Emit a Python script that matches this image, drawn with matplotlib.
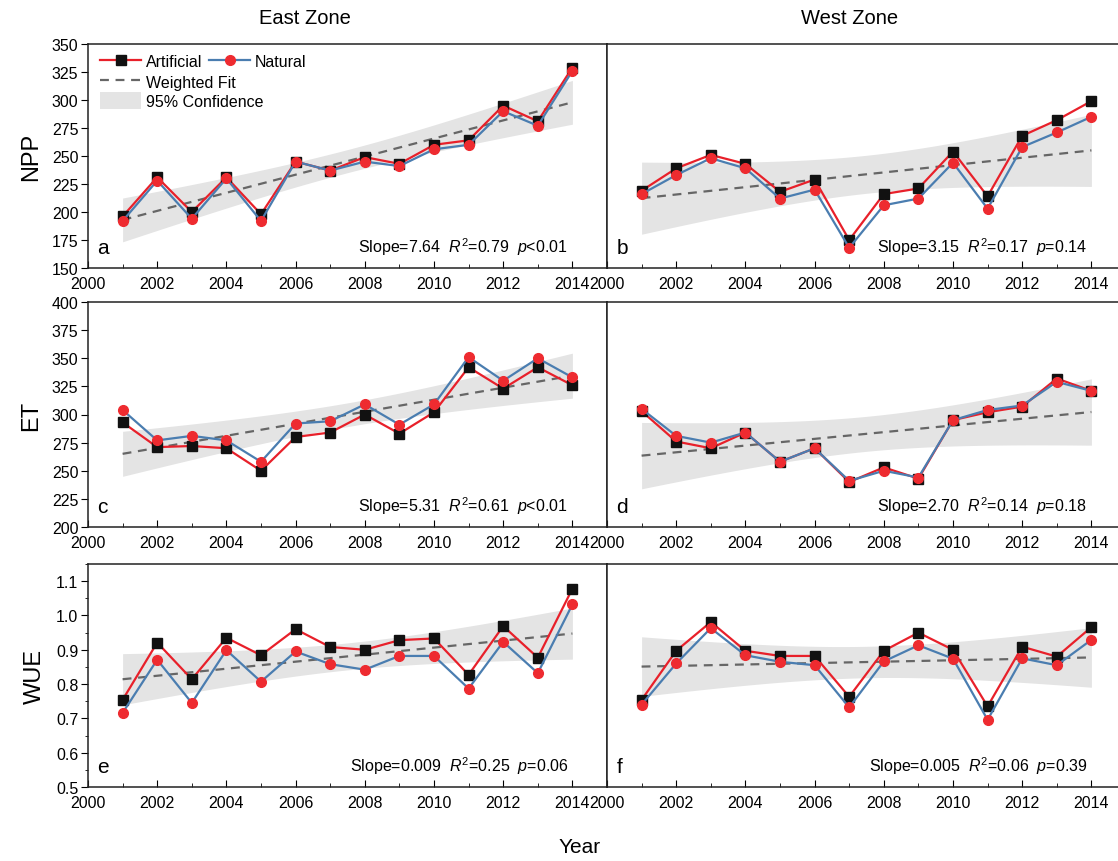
import matplotlib
matplotlib.use('Agg')
import matplotlib.pyplot as plt
from matplotlib.patches import Patch
from matplotlib.ticker import MultipleLocator
import numpy as np

plt.rcParams['font.family'] = ['Liberation Sans', 'DejaVu Sans']
plt.rcParams['mathtext.fontset'] = 'custom'
plt.rcParams['mathtext.rm'] = 'Liberation Sans'
plt.rcParams['mathtext.it'] = 'Liberation Sans:italic'

years = np.arange(2001, 2015)

# NPP
npp_east_art = [196, 231, 200, 231, 198, 245, 237, 249, 243, 260, 264, 295, 281, 329]
npp_east_nat = [192, 228, 194, 230, 192, 245, 237, 245, 241, 256, 260, 290, 277, 326]
npp_west_art = [219, 239, 251, 243, 218, 229, 175, 216, 221, 254, 214, 268, 282, 299]
npp_west_nat = [216, 233, 248, 239, 212, 220, 168, 206, 212, 244, 203, 258, 271, 285]

# ET
et_east_art = [293, 271, 272, 270, 250, 280, 284, 300, 283, 302, 342, 323, 342, 326]
et_east_nat = [304, 277, 281, 277, 258, 292, 294, 309, 291, 309, 351, 330, 350, 333]
et_west_art = [303, 276, 270, 284, 258, 270, 240, 253, 243, 295, 302, 307, 332, 321]
et_west_nat = [305, 281, 275, 284, 258, 270, 241, 250, 244, 295, 304, 308, 329, 321]

# WUE
wue_east_art = [0.754, 0.921, 0.814, 0.935, 0.884, 0.960, 0.908, 0.900, 0.928, 0.933, 0.827, 0.969, 0.877, 1.078]
wue_east_nat = [0.716, 0.871, 0.745, 0.899, 0.807, 0.895, 0.858, 0.842, 0.882, 0.882, 0.787, 0.923, 0.832, 1.032]
wue_west_art = [0.754, 0.897, 0.981, 0.897, 0.882, 0.882, 0.763, 0.897, 0.950, 0.900, 0.735, 0.909, 0.880, 0.966]
wue_west_nat = [0.740, 0.860, 0.963, 0.884, 0.865, 0.855, 0.732, 0.866, 0.913, 0.874, 0.696, 0.875, 0.855, 0.929]

stats = ['Slope=7.64  $R^2$=0.79  $p$<0.01', 'Slope=3.15  $R^2$=0.17  $p$=0.14',
         'Slope=5.31  $R^2$=0.61  $p$<0.01', 'Slope=2.70  $R^2$=0.14  $p$=0.18',
         'Slope=0.009  $R^2$=0.25  $p$=0.06', 'Slope=0.005  $R^2$=0.06  $p$=0.39']
letters = ['a', 'b', 'c', 'd', 'e', 'f']
row_labels = ['NPP', 'ET', 'WUE']
ylims = [(150, 350), (200, 400), (0.5, 1.15)]
yticks = [np.arange(150, 351, 25), np.arange(200, 401, 25), np.arange(0.5, 1.11, 0.1)]

data = [(npp_east_art, npp_east_nat), (npp_west_art, npp_west_nat),
        (et_east_art, et_east_nat), (et_west_art, et_west_nat),
        (wue_east_art, wue_east_nat), (wue_west_art, wue_west_nat)]

RED = '#e8202a'
BLUE = '#4a7db0'
DOT = '#ee2b30'

W, H = 1118, 862
fig = plt.figure(figsize=(W / 100, H / 100), dpi=100)

rows_px = [(45, 269), (303, 528), (565, 788)]
cols_px = [88, 607]
axw = 519


def fit_band(x, y):
    coef = np.polyfit(x, y, 1)
    n = len(x)
    resid = y - np.polyval(coef, x)
    s = np.sqrt(np.sum(resid ** 2) / (n - 2))
    xbar = x.mean()
    sxx = np.sum((x - xbar) ** 2)
    xs = np.linspace(x.min(), x.max(), 100)
    yf = np.polyval(coef, xs)
    half = 2.179 * s * np.sqrt(1.0 / n + (xs - xbar) ** 2 / sxx)
    return xs, yf, yf - half, yf + half


for i in range(6):
    r, c = i // 2, i % 2
    top, bot = rows_px[r]
    ax = fig.add_axes([cols_px[c] / W, (H - bot) / H, axw / W, (bot - top) / H])
    art, nat = np.array(data[i][0]), np.array(data[i][1])

    xs, yf, lo, hi = fit_band(years.astype(float), (art + nat) / 2)
    ax.fill_between(xs, lo, hi, color='#e4e4e4', lw=0, zorder=1)
    hfit, = ax.plot(xs, yf, ls=(0, (4, 3)), color='#666666', lw=1.6, zorder=2)

    h1, = ax.plot(years, art, color=RED, lw=1.6, marker='s', ms=6.5,
                  mfc='#111111', mec='#111111', zorder=3)
    h2, = ax.plot(years, nat, color=BLUE, lw=1.6, marker='o', ms=7,
                  mfc=DOT, mec=DOT, zorder=4)

    ax.set_xlim(2000, 2015)
    ax.set_ylim(*ylims[r])
    ax.set_xticks(np.arange(2000, 2015, 2))
    ax.xaxis.set_minor_locator(MultipleLocator(1))
    ax.tick_params(axis='x', which='major', direction='in', length=5, labelsize=11.5, pad=5.5)
    ax.tick_params(axis='x', which='minor', direction='in', length=3)
    for sp in ax.spines.values():
        sp.set_linewidth(1.1)
        sp.set_color('#222222')

    if c == 0:
        ax.set_yticks(yticks[r])
        if r == 2:
            ax.set_yticklabels(['%.1f' % v for v in yticks[r]])
            ax.yaxis.set_minor_locator(MultipleLocator(0.05))
            ax.tick_params(axis='y', which='minor', direction='out', length=2.5)
        ax.tick_params(axis='y', which='major', direction='out', length=5, labelsize=11.5, pad=2)
        ax.set_ylabel(row_labels[r], fontsize=17, labelpad=7)
    else:
        ax.tick_params(axis='y', which='both', left=False, labelleft=False)
        ax.spines['right'].set_visible(False)

    ax.text(0.018, 0.05, letters[i], transform=ax.transAxes, fontsize=15, va='bottom', ha='left')
    ax.text(0.925, 0.05, stats[i], transform=ax.transAxes, fontsize=11.5, va='bottom', ha='right')

    if i == 0:
        leg1 = ax.legend([h1, h2], ['Artificial', 'Natural'], ncol=2, loc='upper left',
                         bbox_to_anchor=(-0.005, 1.02), frameon=False, fontsize=11.5,
                         handlelength=2.6, handletextpad=0.3, columnspacing=0.4)
        ax.add_artist(leg1)
        band_patch = Patch(facecolor='#e4e4e4', edgecolor='none')
        ax.legend([hfit, band_patch], ['Weighted Fit', '95% Confidence'], loc='upper left',
                  bbox_to_anchor=(-0.005, 0.935), frameon=False, fontsize=11.5,
                  handlelength=2.6, handletextpad=0.3, handleheight=1.3, labelspacing=0.1)

fig.text(305 / W, 1 - 18 / H, 'East Zone', fontsize=14.5, ha='center', va='center')
fig.text(850 / W, 1 - 18 / H, 'West Zone', fontsize=14.5, ha='center', va='center')
fig.text(580 / W, 14 / H, 'Year', fontsize=15, ha='center', va='center')

fig.savefig('out.png', dpi=100, facecolor='white')
